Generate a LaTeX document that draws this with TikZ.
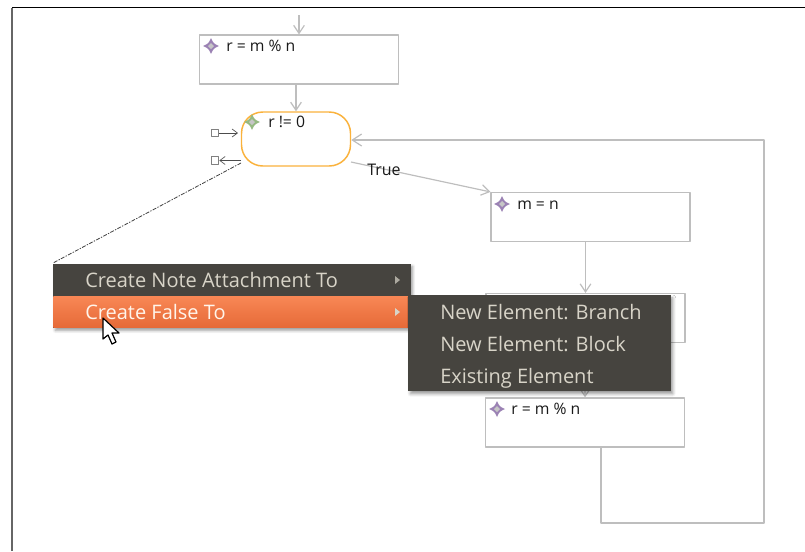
\documentclass[tikz,border=0pt]{standalone}
\usepackage{fontspec}
\setmainfont{Open Sans}
\usetikzlibrary{arrows.meta, shadows.blur, calc}
\definecolor{edgegray}{RGB}{190,190,190}
\definecolor{menudark}{RGB}{70,68,63}
\definecolor{menutext}{RGB}{216,212,200}
\definecolor{menuorangetop}{RGB}{248,135,85}
\definecolor{menuorangelow}{RGB}{230,106,56}
\definecolor{roundorange}{RGB}{250,178,60}
\definecolor{starpurple}{RGB}{155,130,180}
\definecolor{stargreen}{RGB}{150,185,130}
\tikzset{
  blockbox/.style={draw=edgegray, line width=0.9pt, fill=white, minimum width=149.25pt, minimum height=36.75pt, inner sep=0pt},
  branchbox/.style={draw=roundorange, line width=1.1pt, fill=white, rounded corners=16pt, minimum width=81.75pt, minimum height=40.5pt, inner sep=0pt},
  flow/.style={draw=edgegray, line width=0.9pt, -{Straight Barb[length=6pt,width=8pt]}},
  handle/.style={draw=black!50, fill=white, line width=0.9pt, minimum size=5.5pt, inner sep=0pt},
  handleline/.style={draw=black!70, line width=0.5pt},
  menupanel/.style={fill=menudark, inner sep=0pt, blur shadow={shadow blur steps=6, shadow xshift=1.5pt, shadow yshift=-2pt}},
  menuentry/.style={anchor=base west, text=menutext, font=\fontsize{15pt}{17pt}\selectfont, inner sep=0pt},
  boxlabel/.style={anchor=base west, font=\fontsize{11.8pt}{14pt}\selectfont, text=black!90, inner sep=0pt},
  elemstar/.style={fill=#1}
}
% four-pointed element icon
\newcommand{\elemicon}[2]{%
  \fill[elemstar=#2] ($(#1)+(0,-8)$) .. controls ($(#1)+(2.5,-2.5)$) .. ($(#1)+(8,0)$)
    .. controls ($(#1)+(2.5,2.5)$) .. ($(#1)+(0,8)$)
    .. controls ($(#1)+(-2.5,2.5)$) .. ($(#1)+(-8,0)$)
    .. controls ($(#1)+(-2.5,-2.5)$) .. cycle;
  \fill[gray!45] (#1) +(-3,0) -- +(0,-3) -- +(3,0) -- +(0,3) -- cycle;
}
\begin{document}
\begin{tikzpicture}[x=0.75pt, y=-0.75pt, line join=round]
  \useasboundingbox (0,0) rectangle (805,551);
  % frame
  \coordinate (frameA) at (12,551);
  \coordinate (frameB) at (12,7.5);
  \coordinate (frameC) at (805,7.5);
  \draw[black!60, line width=1pt] (frameA) -- (frameB);
  \draw[black, line width=0.8pt] (frameB) -- (frameC);

  % blocks
  \node[blockbox] (rem) at (299,59.5) {};
  \node[branchbox] (test) at (296,139) {};
  \node[blockbox] (assign) at (590.5,217) {};
  \node[blockbox] (hidden) at (585.5,318) {};
  \node[blockbox] (remtwo) at (585,422.5) {};

  % box labels
  \elemicon{211,46}{starpurple}
  \node[boxlabel] (remlabel) at (226,51) {r = m \% n};
  \elemicon{252,122}{stargreen}
  \node[boxlabel] (testlabel) at (268,127) {r != 0};
  \elemicon{502,204}{starpurple}
  \node[boxlabel] (assignlabel) at (517,209) {m = n};
  \elemicon{497,409}{starpurple}
  \node[boxlabel] (remtwolabel) at (511,414) {r = m \% n};

  % connectors
  \coordinate (entry) at (299,15);
  \coordinate (loopA) at (601,447);
  \coordinate (loopB) at (601,523);
  \coordinate (loopC) at (764,523);
  \coordinate (loopD) at (764,140);
  \coordinate (trueStart) at (351,162);
  \draw[flow] (entry) -- (rem.north);
  \draw[flow] (rem.south -| test.north) -- (test.north);
  \draw[flow] (trueStart) -- (assign.north west);
  \draw[flow] (assign.south -| hidden.north) -- (hidden.north);
  \draw[flow] (hidden.south) -- (remtwo.north);
  \draw[draw=edgegray, line width=0.9pt, -{Straight Barb[length=7pt,width=9pt]}]
    (loopA) -- (loopB) -- (loopC) -- (loopD) -- (test.east |- loopD);
  \node[font=\fontsize{12pt}{14pt}\selectfont, text=black!90, inner sep=0pt] (truelabel) at (384,170) {True};

  % handles
  \node[handle] (handleOut) at (215,133) {};
  \node[handle] (handleIn) at (215,160.5) {};
  \coordinate (handleOutEnd) at (238,133);
  \coordinate (handleInEnd) at (241,160.5);
  \draw[handleline, -{Straight Barb[length=4pt,width=6pt]}] (handleOut) -- (handleOutEnd);
  \draw[handleline, -{Straight Barb[length=4pt,width=6pt]}] (handleInEnd) -- (handleIn);

  % dashed drag line
  \coordinate (dragStart) at (241,163);
  \coordinate (dragEnd) at (53,263);
  \draw[black!75, line width=0.6pt, dash pattern=on 3pt off 1pt on 1pt off 1pt] (dragStart) -- (dragEnd);

  % menus
  \node[menupanel, minimum width=268pt, minimum height=48pt, anchor=north west] (mainmenu) at (53,263.5) {};
  \node[anchor=north west, top color=menuorangetop, bottom color=menuorangelow, minimum width=266pt, minimum height=23.25pt, inner sep=0pt] (hilite) at (53,296) {};
  \node[menupanel, minimum width=197pt, minimum height=72pt, anchor=north west] (submenu) at (408,295) {};
  \node[menuentry] (noteentry) at (85,287.5) {Create Note Attachment To};
  \node[menuentry, text=white!92!orange] (falseentry) at (85,319.5) {Create False To};
  \node[menuentry] (branchentry) at (440,319.5) {New Element: Branch};
  \node[menuentry] (blockentry) at (440,351.5) {New Element: Block};
  \node[menuentry] (existentry) at (440,383.5) {Existing Element};

  % submenu arrows
  \fill[menutext!70!menudark] (395,276) -- (400,280) -- (395,284) -- cycle;
  \fill[menutext] (395,308) -- (400,312) -- (395,316) -- cycle;

  % mouse pointer
  \draw[black, fill=white, line width=0.9pt] (103,318) -- (103,339) -- (108,335) -- (112,344) -- (116,342) -- (112,333) -- (119,333) -- cycle;
\end{tikzpicture}
\end{document}
